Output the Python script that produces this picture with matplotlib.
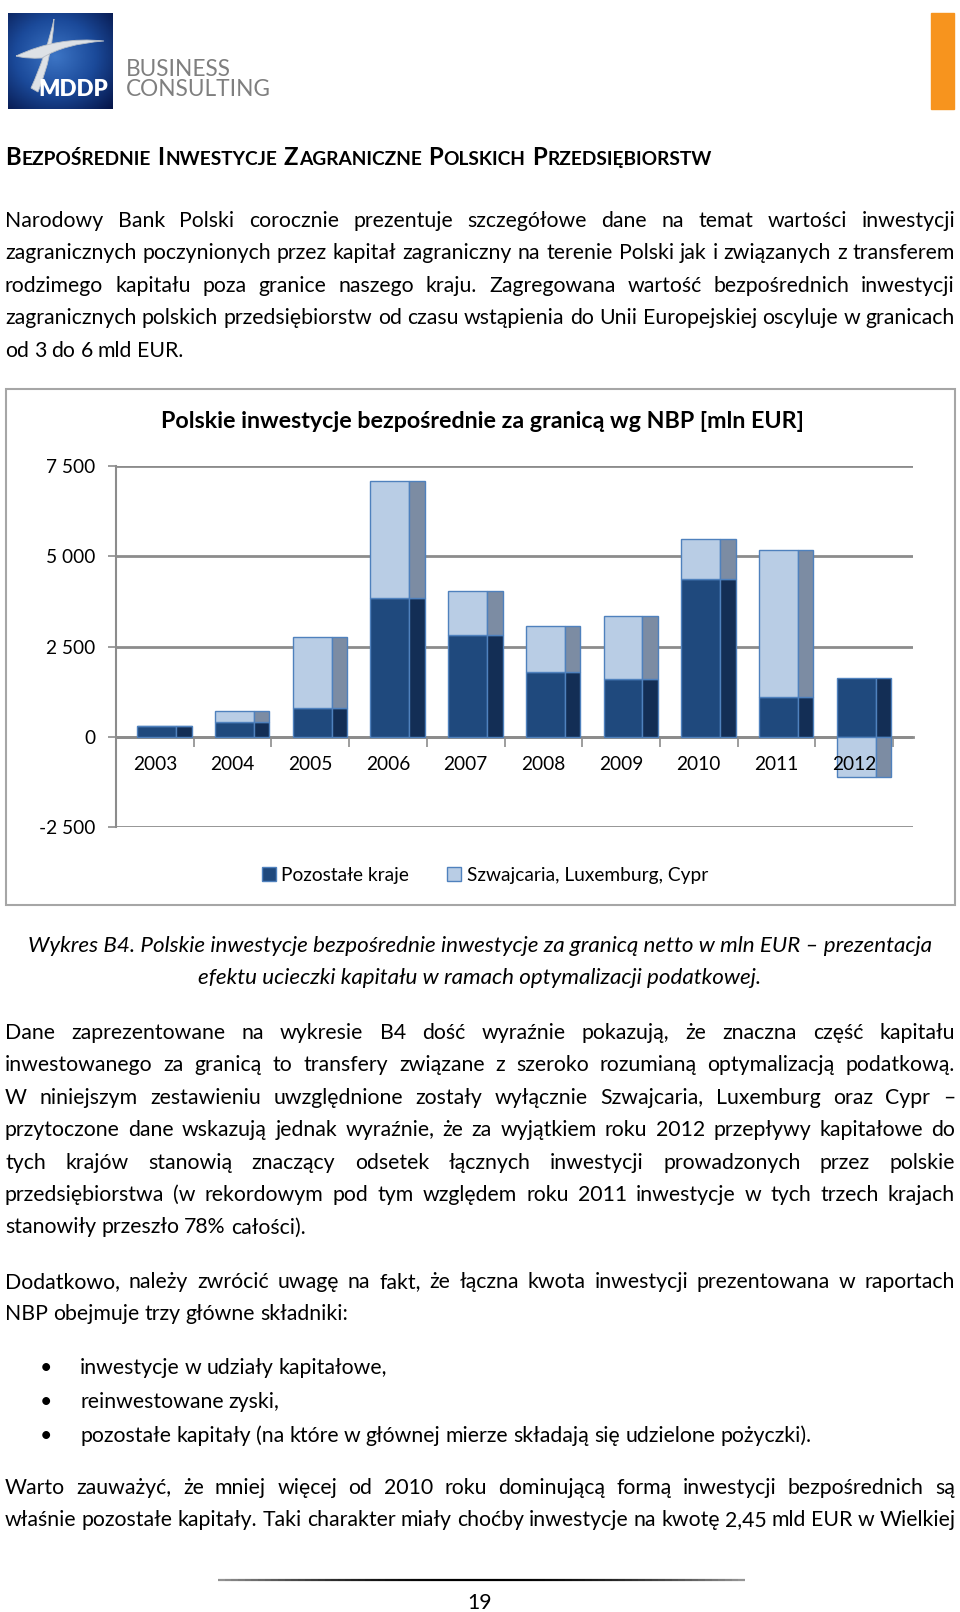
import numpy as np
import matplotlib
matplotlib.use('Agg')
import matplotlib.pyplot as plt
from matplotlib.patches import Rectangle, PathPatch
from matplotlib.path import Path
from matplotlib.collections import LineCollection
from matplotlib.colors import LinearSegmentedColormap

plt.rcParams['font.family'] = ['Lato', 'DejaVu Sans']

# chart data (mln EUR)
years = ['2003', '2004', '2005', '2006', '2007', '2008', '2009', '2010', '2011', '2012']
pozostale = [300, 417, 790, 3845, 2825, 1805, 1595, 4370, 1095, 1620]
szwajcaria = [0, 305, 1960, 3240, 1200, 1270, 1760, 1120, 4065, -1110]
y_ticks = [-2500, 0, 2500, 5000, 7500]
y_labels = ['-2 500', '0', '2 500', '5 000', '7 500']
series_names = ['Pozostałe kraje', 'Szwajcaria, Luxemburg, Cypr']
chart_title = 'Polskie inwestycje bezpośrednie za granicą wg NBP [mln EUR]'

heading = 'BEZPOŚREDNIE INWESTYCJE ZAGRANICZNE POLSKICH PRZEDSIĘBIORSTW'
para1 = [
    'Narodowy Bank Polski corocznie prezentuje szczegółowe dane na temat wartości inwestycji',
    'zagranicznych poczynionych przez kapitał zagraniczny na terenie Polski jak i związanych z transferem',
    'rodzimego kapitału poza granice naszego kraju. Zagregowana wartość bezpośrednich inwestycji',
    'zagranicznych polskich przedsiębiorstw od czasu wstąpienia do Unii Europejskiej oscyluje w granicach',
    'od 3 do 6 mld EUR.',
]
caption = [
    'Wykres B4. Polskie inwestycje bezpośrednie inwestycje za granicą netto w mln EUR – prezentacja',
    'efektu ucieczki kapitału w ramach optymalizacji podatkowej.',
]
para2 = [
    'Dane zaprezentowane na wykresie B4 dość wyraźnie pokazują, że znaczna część kapitału',
    'inwestowanego za granicą to transfery związane z szeroko rozumianą optymalizacją podatkową.',
    'W niniejszym zestawieniu uwzględnione zostały wyłącznie Szwajcaria, Luxemburg oraz Cypr –',
    'przytoczone dane wskazują jednak wyraźnie, że za wyjątkiem roku 2012 przepływy kapitałowe do',
    'tych krajów stanowią znaczący odsetek łącznych inwestycji prowadzonych przez polskie',
    'przedsiębiorstwa (w rekordowym pod tym względem roku 2011 inwestycje w tych trzech krajach',
    'stanowiły przeszło 78% całości).',
]
para3 = [
    'Dodatkowo, należy zwrócić uwagę na fakt, że łączna kwota inwestycji prezentowana w raportach',
    'NBP obejmuje trzy główne składniki:',
]
bullets = [
    'inwestycje w udziały kapitałowe,',
    'reinwestowane zyski,',
    'pozostałe kapitały (na które w głównej mierze składają się udzielone pożyczki).',
]
para4 = [
    'Warto zauważyć, że mniej więcej od 2010 roku dominującą formą inwestycji bezpośrednich są',
    'właśnie pozostałe kapitały. Taki charakter miały choćby inwestycje na kwotę 2,45 mld EUR w Wielkiej',
]

W, H = 960, 1612
LEFT, RIGHT = 5, 955
DARK, DARK_SIDE = '#1F497D', '#132E55'
LIGHT, LIGHT_SIDE = '#B9CDE5', '#7C8CA3'
EDGE = '#4F81BD'
GRID = '#8C8C8C'

fig = plt.figure(figsize=(W / 100, H / 100), dpi=100)
page = fig.add_axes([0, 0, 1, 1])
page.set_xlim(0, W)
page.set_ylim(H, 0)
page.axis('off')
R = fig.canvas.get_renderer()


def tw(t):
    return t.get_window_extent(renderer=R).width


# body size chosen so the long bullet line has the width it has on the page
probe = page.text(0, 0, bullets[2], fontsize=10)
BODY = 10 * 735 / tw(probe)
probe.remove()


def write(y, s, x0=LEFT, x1=RIGHT, justify=True, size=None, **kw):
    size = size or BODY
    words = s.split(' ')
    ts = [page.text(0, y, w, fontsize=size, va='baseline', ha='left', **kw) for w in words]
    ws = [tw(t) for t in ts]
    if justify and len(words) > 1:
        gap = (x1 - x0 - sum(ws)) / (len(words) - 1)
    else:
        gap = size * 100 / 72 * 0.24
    x = x0
    for t, w in zip(ts, ws):
        t.set_x(x)
        x += w + gap


def block(lines, y0, step=32.4):
    for i, s in enumerate(lines):
        write(y0 + i * step, s, justify=(i < len(lines) - 1))


# --- logo ---
gy, gx = np.mgrid[0:1:60j, 0:1:60j]
grad = 1 - np.clip(np.hypot(gx - 0.45, gy - 0.45) * 1.3, 0, 1)
blue = LinearSegmentedColormap.from_list('b', ['#06164A', '#1B4A9A', '#3C74C4'])
page.imshow(grad, cmap=blue, extent=(8, 113, 109, 13), aspect='auto', zorder=1)
page.set_xlim(0, W)
page.set_ylim(H, 0)
v = Path([(54, 19), (53, 55), (38, 92), (31, 88), (46, 55), (54, 19)],
         [Path.MOVETO, Path.CURVE3, Path.CURVE3, Path.LINETO, Path.CURVE3, Path.CURVE3])
h = Path([(16, 56), (58, 36), (104, 41), (64, 44), (42, 58), (27, 59), (16, 56)],
         [Path.MOVETO, Path.CURVE3, Path.CURVE3, Path.CURVE3, Path.CURVE3, Path.CURVE3, Path.CURVE3])
for p in (v, h):
    page.add_patch(PathPatch(p, facecolor='#DDE1E6', edgecolor='#B8BEC6', lw=0.6, zorder=2))
page.text(73, 89, 'MDDP', color='white', fontsize=16, fontweight='heavy',
          ha='center', va='center', zorder=3)
page.text(126, 70, 'BUSINESS', color='#7F7F7F', fontsize=16.3,
          ha='left', va='center')
page.text(126, 89, 'CONSULTING', color='#7F7F7F', fontsize=16.3,
          ha='left', va='center')
page.add_patch(Rectangle((931, 13), 23, 96, color='#F7941E'))

# --- heading in small caps ---
HEAD = BODY * 1.12
x = LEFT
for word in heading.split(' '):
    a = page.text(x, 165, word[0], fontsize=HEAD, fontweight='bold', va='baseline')
    x += tw(a) + 1
    b = page.text(x, 165, word[1:], fontsize=HEAD * 0.8, fontweight='bold', va='baseline')
    x += tw(b) + HEAD * 100 / 72 * 0.26

block(para1, 227)

# --- chart ---
page.add_patch(Rectangle((6, 389), 949, 516, fill=False, edgecolor='#A6A6A6', lw=1.5))
page.text(482, 421, chart_title, fontsize=BODY * 1.09, fontweight='bold', ha='center', va='center')

ax = fig.add_axes([116 / W, 1 - 827 / H, 797 / W, 361 / H])
ax.patch.set_alpha(0)
xs = np.arange(len(years))
poz = np.array(pozostale)
szw = np.array(szwajcaria)
base = np.where(szw >= 0, poz, 0)
ax.bar(xs - 0.225, poz, width=0.5, align='edge', color=DARK, edgecolor=EDGE, lw=1, zorder=3)
ax.bar(xs + 0.275, poz, width=0.2, align='edge', color=DARK_SIDE, edgecolor=EDGE, lw=1, zorder=3)
ax.bar(xs - 0.225, szw, bottom=base, width=0.5, align='edge', color=LIGHT, edgecolor=EDGE, lw=1, zorder=3)
ax.bar(xs + 0.275, szw, bottom=base, width=0.2, align='edge', color=LIGHT_SIDE, edgecolor=EDGE, lw=1, zorder=3)

ax.set_xlim(-0.5, 9.5 + 20 / 77.7)
ax.set_ylim(-2500, 7500)
ax.set_yticks(y_ticks, y_labels)
ax.yaxis.grid(True, color=GRID, lw=2)
ax.set_axisbelow(True)
ax.set_xticks(xs, [''] * len(xs))
ax.set_xticks(np.arange(-0.5, 10, 1), minor=True)
ax.tick_params(axis='x', which='major', length=0)
ax.tick_params(axis='x', which='minor', length=7, width=1.2, color=GRID)
ax.tick_params(axis='y', length=6, width=1.2, color=GRID, pad=9, labelsize=BODY * 0.9)
for i, yr in enumerate(years):
    ax.annotate(yr, (i, 0), xytext=(0, -20), textcoords='offset points',
                ha='center', va='center', fontsize=BODY * 0.9, zorder=6)
for s in ('top', 'right'):
    ax.spines[s].set_visible(False)
ax.spines['left'].set_color(GRID)
ax.spines['left'].set_linewidth(1.5)
ax.spines['bottom'].set_position(('data', 0))
ax.spines['bottom'].set_color(GRID)
ax.spines['bottom'].set_linewidth(2)

handles = [Rectangle((0, 0), 1, 1, facecolor=DARK, edgecolor=EDGE),
           Rectangle((0, 0), 1, 1, facecolor=LIGHT, edgecolor=EDGE)]
fig.legend(handles, series_names, loc='center', bbox_to_anchor=(485 / W, 1 - 875 / H),
           ncol=2, frameon=False, fontsize=BODY * 0.9, handlelength=0.7, handleheight=0.7,
           handletextpad=0.3, columnspacing=2.0)

# --- caption and text below ---
for i, s in enumerate(caption):
    page.text(480, 952 + i * 32.4, s, fontsize=BODY * 1.05, style='italic', ha='center', va='baseline')

block(para2, 1039)
block(para3, 1288)
for i, s in enumerate(bullets):
    y = 1374 + i * 34
    page.text(46, y, '•', fontsize=BODY, ha='center', va='baseline')
    write(y, s, x0=80, justify=False)
block(para4, 1494)

# --- footer ---
fx = np.linspace(218, 745, 80)
seg = np.stack([np.column_stack([fx[:-1], np.full(79, 1580)]),
                np.column_stack([fx[1:], np.full(79, 1580)])], axis=1)
mid = (fx[:-1] + fx[1:]) / 2
shade = np.clip(np.abs(mid - 480) / 265, 0, 1) ** 2
cols = [(0.6 * s, 0.6 * s, 0.6 * s) for s in shade]
page.add_collection(LineCollection(seg, colors=cols, linewidths=1.6))
page.text(480, 1603, '19', fontsize=BODY, ha='center', va='center')

fig.savefig('out.png', dpi=100)
